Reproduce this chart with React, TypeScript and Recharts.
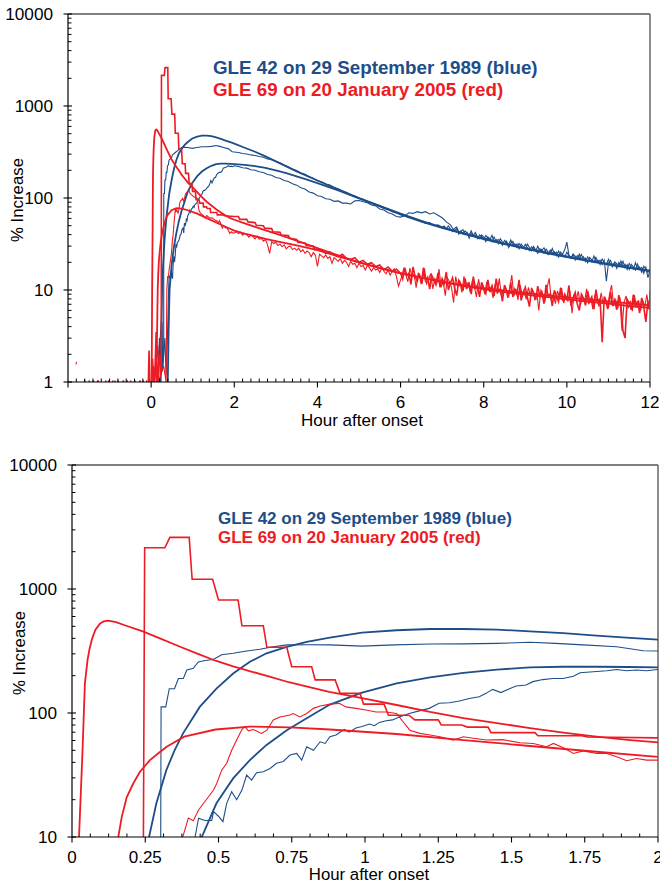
import React from 'react';
import { LineChart, Line, XAxis, YAxis, ReferenceLine } from 'recharts';

type Pt = [number, number | null];

const BLUE = '#1d4e89';
const RED = '#ed1c24';
const FONT = "'Liberation Sans', Arial, Helvetica, sans-serif";

// ---------- data (hour after onset, % increase) ----------
const blueFit1: Pt[] = [
  [0.23, 1], [0.245, 3], [0.263, 10], [0.288, 18.7], [0.322, 34.6], [0.35, 50], [0.379, 68.5], [0.436, 112],
  [0.493, 157], [0.55, 208], [0.607, 259], [0.664, 303], [0.733, 342], [0.801, 375], [0.88, 406], [0.99, 444],
  [1.108, 465], [1.222, 476], [1.336, 476], [1.45, 470], [1.563, 456], [1.677, 440], [1.79, 421], [1.905, 404],
  [2.0, 390], [2.25, 352], [2.5, 318], [2.75, 283], [3, 250], [3.25, 221], [3.5, 195], [3.75, 174], [4, 155],
  [4.5, 124], [5, 100], [5.5, 82], [6, 67.5], [6.5, 56.5], [7, 48], [7.5, 41.5], [8, 36.3], [8.5, 32], [9, 28.5],
  [9.5, 25.6], [10, 23.2], [10.5, 21], [11, 19.2], [11.5, 17.6], [12, 16.2],
];

const blueFit2: Pt[] = [
  [0.4, 1], [0.42, 3.5], [0.443, 10], [0.493, 18.7], [0.55, 29.7], [0.607, 41.7], [0.664, 55.3], [0.733, 72.7],
  [0.801, 90.6], [0.88, 117], [0.99, 146], [1.108, 173], [1.222, 194], [1.336, 211], [1.45, 224], [1.563, 233],
  [1.677, 236], [1.79, 236], [1.9, 235], [2.0, 233], [2.25, 229], [2.5, 222], [2.75, 212], [3, 200], [3.25, 186],
  [3.5, 172], [3.75, 158], [4, 145], [4.5, 121], [5, 99], [5.5, 81], [6, 66.5], [6.5, 55.5], [7, 47.3], [7.5, 41],
  [8, 35.8], [8.5, 31.6], [9, 28.1], [9.5, 25.2], [10, 22.8], [10.5, 20.7], [11, 18.9], [11.5, 17.4], [12, 16],
];

const blueObs1: Pt[] = [
  [-1.52, 0.85], [-1.49, 1.04], [-1.46, 0.85], [-1.12, 0.85], [-1.09, 1.04], [-1.06, 0.85], [-0.82, 0.85],
  [-0.79, 1.04], [-0.76, 0.85], [-0.42, 0.85], [-0.39, 1.04], [-0.36, 0.85], [0.05, 0.9], [0.1, 1.4], [0.15, 1.0],
  [0.2, 3.0], [0.22, 1.1], [0.26, 4.5], [0.28, 1.5],
  [0.302, 2], [0.304, 112], [0.32, 112], [0.332, 157], [0.35, 157], [0.363, 190], [0.38, 190], [0.392, 222],
  [0.414, 229], [0.431, 258], [0.454, 265], [0.482, 270], [0.511, 295], [0.55, 303], [0.596, 316], [0.641, 327],
  [0.687, 342], [0.733, 354], [0.8, 355], [0.88, 354], [0.99, 346], [1.1, 354], [1.222, 360], [1.336, 361],
  [1.45, 364], [1.563, 372], [1.65, 364], [1.745, 354], [1.859, 342], [1.95, 318], [2.0, 316],
  [2.1, 312], [2.2, 305], [2.3, 301], [2.4, 294], [2.5, 290], [2.6, 283], [2.7, 277], [2.8, 266], [2.9, 260],
  [3.0, 249], [3.1, 241], [3.2, 228], [3.3, 219], [3.4, 206], [3.5, 199], [3.6, 187], [3.7, 181], [3.8, 169],
  [3.9, 164], [4.0, 154], [4.1, 150], [4.2, 141], [4.3, 138], [4.4, 129], [4.5, 126], [4.6, 118], [4.7, 115],
  [4.8, 107], [4.9, 105], [5.0, 99], [5.1, 97], [5.2, 91], [5.3, 89], [5.4, 84], [5.5, 83], [5.6, 77], [5.7, 76],
  [5.8, 71], [5.9, 70], [6.0, 66], [6.1, 65], [6.2, 61], [6.3, 61], [6.4, 57], [6.5, 57], [6.6, 53], [6.7, 54],
  [6.8, 50], [6.9, 51], [7.0, 48],
  [7.05, 49.7], [7.1, 46.2], [7.15, 49.7], [7.2, 46.2], [7.25, 43.2], [7.3, 46.6], [7.35, 48.2], [7.4, 42.7],
  [7.45, 43.9], [7.5, 40.6], [7.55, 43.8], [7.6, 41.5], [7.65, 39.3], [7.7, 43.9], [7.75, 39.0], [7.8, 39.7],
  [7.85, 36.1], [7.9, 39.8], [7.95, 37.8], [8.0, 35.5], [8.05, 39.1], [8.1, 36.1], [8.15, 36.7], [8.2, 33.4],
  [8.25, 37.6], [8.3, 33.7], [8.35, 35.3], [8.4, 33.5], [8.45, 30.7], [8.5, 34.6], [8.55, 32.9], [8.6, 30.9],
  [8.65, 35.0], [8.7, 30.9], [8.75, 31.7], [8.8, 28.9], [8.85, 31.9], [8.9, 29.7], [8.95, 28.5], [9.0, 31.3],
  [9.05, 29.0], [9.1, 26.7], [9.15, 29.5], [9.2, 28.4], [9.25, 26.4], [9.3, 29.9], [9.35, 26.4], [9.4, 27.7],
  [9.45, 25.1], [9.5, 27.9], [9.55, 25.8], [9.6, 24.8], [9.65, 28.3], [9.7, 24.8], [9.75, 25.8], [9.8, 22.8],
  [9.85, 25.8], [9.9, 24.2], [9.95, 22.9], [10.0, 25.8], [10.05, 23.5], [10.1, 22.0], [10.15, 24.4], [10.2, 23.3],
  [10.25, 21.8], [10.3, 24.5], [10.35, 21.7], [10.4, 23.0], [10.45, 20.3], [10.5, 22.9], [10.55, 21.2],
  [10.6, 20.2], [10.65, 23.4], [10.7, 20.5], [10.75, 21.1], [10.8, 18.9], [10.85, 21.7], [10.9, 19.9],
  [10.95, 18.8], [11.0, 21.6], [11.05, 19.0], [11.1, 17.8], [11.15, 20.2], [11.2, 19.3], [11.25, 18.0],
  [11.3, 20.6], [11.35, 17.9], [11.4, 19.0], [11.45, 16.7], [11.5, 19.4], [11.55, 17.8], [11.6, 16.8],
  [11.65, 19.8], [11.7, 17.1], [11.75, 17.7], [11.8, 15.6], [11.85, 18.1], [11.9, 16.8], [11.95, 15.6], [12.0, 16.8],
];

const blueObs2: Pt[] = [
  [-1.62, 0.85], [-1.59, 1.04], [-1.56, 0.85], [-1.32, 0.85], [-1.29, 1.04], [-1.26, 0.85], [-0.95, 0.85],
  [-0.92, 1.04], [-0.89, 0.85], [-0.6, 0.85], [-0.57, 1.04], [-0.54, 0.85], [-0.22, 0.85], [-0.19, 1.04],
  [-0.16, 0.85], [0.08, 0.9], [0.12, 2.0], [0.15, 1.0], [0.25, 5], [0.27, 1.3], [0.33, 3], [0.36, 1.2],
  [0.4, 4], [0.42, 10], [0.432, 14.2], [0.454, 13.6], [0.477, 13.6], [0.483, 16], [0.5, 14.7], [0.515, 13.3],
  [0.528, 18.7], [0.545, 23.2], [0.562, 20], [0.58, 23.9], [0.596, 31.6], [0.613, 28.8], [0.63, 33], [0.653, 33.6],
  [0.676, 35.7], [0.698, 39.3], [0.721, 40.7], [0.744, 45.8], [0.767, 47.2], [0.784, 41.7], [0.801, 53.4],
  [0.824, 50], [0.847, 58.6], [0.864, 56.8], [0.88, 64.4], [0.901, 66.5], [0.929, 73.6], [0.946, 70], [0.969, 75.6],
  [0.99, 77.7], [1.015, 81.5], [1.032, 79], [1.049, 84], [1.072, 86.5], [1.094, 88], [1.117, 93], [1.151, 99],
  [1.185, 104], [1.219, 109], [1.253, 120], [1.288, 121], [1.322, 125], [1.356, 131], [1.39, 135], [1.413, 144],
  [1.436, 155], [1.464, 146], [1.493, 157], [1.516, 165], [1.55, 168], [1.573, 179], [1.607, 186], [1.641, 190],
  [1.676, 190], [1.711, 198], [1.734, 211], [1.779, 215], [1.825, 219], [1.859, 224], [1.893, 219], [1.927, 222],
  [1.961, 219], [2.0, 224],
  [2.1, 220], [2.2, 213], [2.3, 211], [2.4, 203], [2.5, 200], [2.6, 193], [2.7, 189], [2.8, 180], [2.9, 177],
  [3.0, 167], [3.1, 164], [3.2, 155], [3.3, 151], [3.4, 143], [3.5, 138], [3.6, 129], [3.7, 125], [3.8, 116],
  [3.9, 113], [4.0, 106], [4.1, 104], [4.2, 98], [4.3, 97], [4.4, 92], [4.5, 93], [4.6, 88], [4.7, 88], [4.8, 86],
  [4.9, 93], [5.0, 94], [5.1, 91], [5.2, 89], [5.3, 84], [5.4, 82], [5.5, 76], [5.6, 74], [5.7, 69], [5.8, 67],
  [5.9, 63], [6.0, 62], [6.1, 64], [6.2, 69], [6.3, 68], [6.4, 71], [6.5, 69], [6.6, 71], [6.7, 67], [6.8, 69],
  [6.9, 65], [7.0, 61], [7.1, 55], [7.2, 51], [7.25, 47],
  [7.3, 43.9], [7.35, 46.4], [7.4, 40.5], [7.45, 43.4], [7.5, 45.3], [7.55, 40.0], [7.6, 42.3], [7.65, 36.5],
  [7.7, 41.5], [7.75, 39.4], [7.8, 42.4], [7.85, 37.2], [7.9, 36.0], [7.95, 39.6], [8.0, 37.7], [8.05, 33.6],
  [8.1, 37.9], [8.15, 35.2], [8.2, 39.4], [8.25, 33.4], [8.3, 35.4], [8.35, 31.9], [8.4, 36.2], [8.45, 33.3],
  [8.5, 31.6], [8.55, 33.9], [8.6, 29.0], [8.65, 32.1], [8.7, 33.7], [8.75, 30.2], [8.8, 31.6], [8.85, 28.0],
  [8.9, 31.5], [8.95, 29.4], [9.0, 27.8], [9.05, 31.6], [9.1, 29.0], [9.15, 26.7], [9.2, 29.7], [9.25, 27.2],
  [9.3, 25.0], [9.35, 28.2], [9.4, 26.9], [9.45, 28.8], [9.5, 25.3], [9.55, 24.3], [9.6, 27.1], [9.65, 25.3],
  [9.7, 26.0], [9.75, 23.6], [9.8, 26.5], [9.85, 23.8], [9.9, 24.7], [9.95, 27.5], [10.0, 33.2], [10.05, 24.0],
  [10.1, 22.3], [10.15, 24.6], [10.2, 21.2], [10.25, 23.6], [10.3, 22.3], [10.35, 24.3], [10.4, 21.2],
  [10.45, 22.2], [10.5, 19.7], [10.55, 22.5], [10.6, 21.2], [10.65, 19.9], [10.7, 22.6], [10.75, 20.1],
  [10.8, 21.1], [10.85, 18.9], [10.9, 21.1], [10.95, 12.5], [11.0, 19.6], [11.05, 21.0], [11.1, 18.5],
  [11.15, 19.7], [11.2, 17.2], [11.25, 19.9], [11.3, 18.4], [11.35, 20.5], [11.4, 17.4], [11.45, 18.9],
  [11.5, 16.7], [11.55, 19.0], [11.6, 17.7], [11.65, 16.5], [11.7, 19.1], [11.75, 16.7], [11.8, 17.6],
  [11.85, 15.2], [11.9, 17.6], [11.95, 13.6], [12.0, 16.2],
];

const redFit1: Pt[] = [
  [0.012, 1], [0.018, 3], [0.024, 10], [0.036, 50], [0.044, 173], [0.053, 267], [0.06, 330], [0.069, 400],
  [0.08, 470], [0.096, 528], [0.108, 548], [0.124, 555], [0.15, 540], [0.18, 510], [0.244, 453], [0.3, 400],
  [0.369, 342], [0.43, 300], [0.49, 264], [0.55, 238], [0.615, 215], [0.68, 195], [0.74, 177], [0.81, 162],
  [0.878, 148], [0.994, 131], [1.108, 116], [1.222, 102], [1.336, 91], [1.45, 83], [1.563, 75.5], [1.677, 69.5],
  [1.79, 64.5], [1.905, 60.5], [2.0, 58], [2.25, 53], [2.5, 48.5], [2.75, 44.5], [3, 41], [3.5, 34.5], [4, 28.5],
  [4.5, 23.8], [5, 20], [5.5, 17.3], [6, 15.2], [6.5, 13.6], [7, 12.3], [7.5, 11.3], [8, 10.5], [8.5, 9.85],
  [9, 9.3], [9.5, 8.8], [10, 8.3], [10.5, 7.9], [11, 7.5], [11.5, 7.15], [12, 6.8],
];

const redFit2: Pt[] = [
  [0.135, 2], [0.148, 5], [0.158, 10], [0.17, 14.6], [0.187, 21], [0.209, 27], [0.232, 33.6], [0.266, 41.7],
  [0.298, 48], [0.323, 53.4], [0.383, 64.4], [0.49, 73.6], [0.607, 77.7], [0.744, 76.7], [0.88, 73.6],
  [1.108, 67.7], [1.336, 60.5], [1.563, 54.2], [1.79, 48.7], [2.0, 44.3],
  [2.25, 41], [2.5, 38.5], [2.75, 36], [3, 34], [3.5, 30.5], [4, 27.2], [4.5, 23.2], [5, 20], [5.5, 17.4],
  [6, 15.3], [6.5, 13.6], [7, 12.2], [7.5, 11.1], [8, 10.2], [8.5, 9.5], [9, 8.9], [9.5, 8.4], [10, 7.9],
  [10.5, 7.5], [11, 7.1], [11.5, 6.7], [12, 6.4],
];

const redObs1: Pt[] = [
  [-1.42, 0.85], [-1.39, 1.04], [-1.36, 0.85], [-1.05, 0.85], [-1.02, 1.04], [-0.99, 0.85], [-0.7, 0.85],
  [-0.67, 1.04], [-0.64, 0.85], [-0.3, 0.85], [-0.27, 1.04], [-0.24, 0.85], [-0.07, 0.9], [-0.05, 2.2],
  [-0.03, 0.95], [0.0, 0.9], [0.05, 1.5], [0.08, 0.9], [0.12, 3.5], [0.14, 1.0], [0.2, 2.0], [0.23, 1.2],
  [0.242, 1.2], [0.248, 2150], [0.317, 2150],
  [0.334, 2610], [0.4, 2610], [0.41, 1200], [0.48, 1200], [0.5, 815], [0.567, 815], [0.58, 505], [0.653, 505],
  [0.665, 339], [0.733, 339], [0.75, 236], [0.818, 236], [0.83, 185], [0.898, 185], [0.915, 144], [0.983, 144],
  [0.995, 118], [1.065, 118], [1.08, 96], [1.15, 96], [1.17, 88], [1.25, 88], [1.26, 80], [1.33, 80], [1.35, 77],
  [1.42, 77], [1.43, 69.5], [1.58, 69.5], [1.59, 65.5], [1.74, 65.5], [1.76, 64], [2.0, 63],
  [2.1, 63], [2.13, 58.5], [2.3, 58.5], [2.33, 55], [2.5, 54], [2.53, 50.5], [2.7, 50], [2.73, 47], [2.9, 46.5],
  [2.93, 43], [3.1, 42.5], [3.13, 39.5], [3.3, 39], [3.33, 36.5], [3.5, 35.5], [3.53, 33], [3.7, 32.5],
  [3.73, 30.5], [3.9, 30], [3.93, 27.5], [4.0, 28], [4.1, 27], [4.2, 25], [4.3, 26], [4.4, 24], [4.5, 23],
  [4.6, 24.5], [4.7, 22], [4.8, 21.5], [4.9, 22.5], [5.0, 20], [5.1, 21], [5.2, 19], [5.3, 19.8], [5.4, 18],
  [5.5, 18.7], [5.6, 16.5], [5.7, 17.8], [5.8, 16], [5.9, 16.8],
  [6.0, 15.2], [6.05, 13.2], [6.1, 17.5], [6.15, 14.3], [6.2, 15.2], [6.25, 11.5], [6.3, 17.8], [6.35, 14.0],
  [6.4, 12.5], [6.45, 15.1], [6.5, 11.6], [6.55, 17.5], [6.6, 12.6], [6.65, 13.7], [6.7, 10.2], [6.75, 14.4],
  [6.8, 12.8], [6.85, 11.4], [6.9, 15.3], [6.95, 10.7], [7.0, 13.3], [7.05, 11.7], [7.1, 15.7], [7.15, 10.0],
  [7.2, 11.9], [7.25, 13.6], [7.3, 10.5], [7.35, 8.7], [7.4, 12.7], [7.45, 11.6], [7.5, 9.8], [7.55, 13.4],
  [7.6, 10.6], [7.65, 11.7], [7.7, 9.0], [7.75, 14.0], [7.8, 10.5], [7.85, 11.3], [7.9, 8.4], [7.95, 12.1],
  [8.0, 10.5], [8.05, 9.2], [8.1, 12.9], [8.15, 9.5], [8.2, 11.1], [8.25, 8.6], [8.3, 13.3], [8.35, 9.6],
  [8.4, 10.3], [8.45, 7.5], [8.5, 11.3], [8.55, 9.8], [8.6, 8.7], [8.65, 12.1], [8.7, 8.4], [8.75, 10.2],
  [8.8, 9.0], [8.85, 12.9], [8.9, 7.7], [8.95, 9.4], [9.0, 10.7], [9.05, 8.3], [9.1, 6.6], [9.15, 10.2],
  [9.2, 9.4], [9.25, 7.8], [9.3, 11.0], [9.35, 8.5], [9.4, 9.4], [9.45, 7.1], [9.5, 11.4], [9.55, 8.5],
  [9.6, 9.1], [9.65, 6.7], [9.7, 9.9], [9.75, 8.6], [9.8, 7.5], [9.85, 10.6], [9.9, 7.6], [9.95, 9.0],
  [10.0, 7.8], [10.05, 11.2], [10.1, 6.7], [10.15, 8.2], [10.2, 9.4], [10.25, 7.1], [10.3, 6.0], [10.35, 9.0],
  [10.4, 8.1], [10.45, 6.8], [10.5, 9.8], [10.55, 7.5], [10.6, 8.4], [10.65, 6.2], [10.7, 10.1], [10.75, 7.4],
  [10.8, 8.0], [10.85, 2.7], [10.9, 8.5], [10.95, 7.5], [11.0, 6.6], [11.05, 9.5], [11.1, 6.7], [11.15, 7.8],
  [11.2, 6.1], [11.25, 8.8], [11.3, 7.0], [11.35, 3.6], [11.4, 3.0], [11.45, 7.9], [11.5, 7.2], [11.55, 6.1],
  [11.6, 8.9], [11.65, 6.5], [11.7, 7.6], [11.75, 5.6], [11.8, 8.2], [11.85, 6.6], [11.9, 4.5], [11.95, 7.5],
  [12.0, 6.8],
];

const redObs2: Pt[] = [
  [-1.81, 1.55], [-1.795, 1.65], [-1.7, null], [-1.3, 0.85], [-1.27, 1.04], [-1.24, 0.85], [-0.9, 0.85],
  [-0.87, 1.04], [-0.84, 0.85], [-0.52, 0.85], [-0.49, 1.04], [-0.46, 0.85], [-0.14, 0.85], [-0.11, 1.04],
  [-0.08, 0.85], [0.02, 0.9], [0.04, 1.8], [0.06, 0.95], [0.1, 1.2], [0.16, 2.5], [0.18, 1.0], [0.3, 1.5],
  [0.36, 1.0], [0.378, 10], [0.397, 14.2], [0.414, 13.5], [0.432, 16.5], [0.449, 18.7], [0.466, 21.1],
  [0.483, 23.9], [0.494, 27], [0.511, 34.6], [0.528, 39.3], [0.545, 50], [0.562, 60.5], [0.58, 73.6], [0.59, 77.7],
  [0.602, 71.8], [0.619, 73.6], [0.647, 68.5], [0.665, 72.7], [0.687, 88], [0.71, 93], [0.744, 96.4], [0.755, 99],
  [0.778, 93], [0.801, 99], [0.824, 109], [0.847, 114], [0.88, 118], [0.912, 119.6], [0.935, 112], [0.969, 109],
  [1.003, 105.6], [1.038, 102], [1.072, 102], [1.108, 99], [1.13, 85], [1.153, 72.7], [1.187, 68.5], [1.222, 66.5],
  [1.256, 64.4], [1.301, 60.5], [1.336, 64.4], [1.37, 62.5], [1.413, 60.5], [1.47, 61], [1.529, 57.5],
  [1.574, 56.8], [1.62, 53.4], [1.643, 56.8], [1.677, 52.5], [1.711, 47.2], [1.745, 49.5], [1.791, 47.2],
  [1.825, 47.2], [1.859, 44.3], [1.893, 41.2], [1.927, 43], [1.961, 41.7], [2.0, 41.7],
  [2.05, 43], [2.1, 41], [2.15, 42.5], [2.2, 39.5], [2.25, 41], [2.3, 40], [2.35, 37.5], [2.4, 39.5], [2.45, 38],
  [2.5, 36], [2.55, 38.5], [2.6, 35.5], [2.65, 36.5], [2.7, 34], [2.75, 35.5], [2.8, 31], [2.85, 25], [2.9, 33.5],
  [2.95, 32], [3.0, 33], [3.05, 30.5], [3.1, 31.5], [3.15, 29.5], [3.2, 31], [3.25, 28], [3.3, 29.5], [3.35, 30],
  [3.4, 27.5], [3.45, 28.5], [3.5, 27], [3.55, 28.5], [3.6, 26], [3.65, 27.5], [3.7, 25], [3.75, 26.5],
  [3.8, 25.5], [3.85, 23], [3.9, 25.5], [3.95, 24], [4.0, 18], [4.05, 24.5], [4.1, 23.5], [4.15, 22.5], [4.2, 24],
  [4.25, 22], [4.3, 23], [4.35, 19.5], [4.4, 22.5], [4.45, 21.5], [4.5, 20.5], [4.55, 22], [4.6, 19.5], [4.65, 21],
  [4.7, 20], [4.75, 18], [4.8, 20.5], [4.85, 19], [4.9, 19.5], [4.95, 17.5], [5.0, 19.5], [5.05, 18], [5.1, 18.5],
  [5.15, 16.5], [5.2, 18.5], [5.25, 17.5], [5.3, 16], [5.35, 17.5], [5.4, 16.5], [5.45, 17], [5.5, 15.5],
  [5.55, 17.5], [5.6, 16], [5.65, 15], [5.7, 16.5], [5.75, 14.5], [5.8, 16], [5.85, 17], [5.9, 14], [5.95, 11],
  [6.025, 13.9], [6.075, 17.0], [6.125, 14.8], [6.175, 12.3], [6.225, 17.3], [6.275, 13.9], [6.325, 14.9],
  [6.375, 10.6], [6.425, 15.2], [6.475, 14.0], [6.525, 12.2], [6.575, 17.2], [6.625, 11.7], [6.675, 13.1],
  [6.725, 15.1], [6.775, 10.3], [6.825, 13.3], [6.875, 12.0], [6.925, 16.9], [6.975, 10.7], [7.025, 12.3],
  [7.075, 8.7], [7.125, 13.5], [7.175, 12.4], [7.225, 10.7], [7.275, 7.3], [7.325, 14.0], [7.375, 10.9],
  [7.425, 12.4], [7.475, 9.4], [7.525, 14.1], [7.575, 10.3], [7.625, 12.2], [7.675, 9.4], [7.725, 12.6],
  [7.775, 10.9], [7.825, 8.4], [7.875, 13.1], [7.925, 9.9], [7.975, 11.2], [8.025, 9.0], [8.075, 12.3],
  [8.125, 10.0], [8.175, 10.7], [8.225, 8.2], [8.275, 11.6], [8.325, 9.1], [8.375, 13.4], [8.425, 8.6],
  [8.475, 9.9], [8.525, 10.8], [8.575, 8.2], [8.625, 10.2], [8.675, 14.5], [8.725, 8.6], [8.775, 10.3],
  [8.825, 7.8], [8.875, 11.3], [8.925, 9.0], [8.975, 9.6], [9.025, 7.9], [9.075, 10.7], [9.125, 8.5],
  [9.175, 10.1], [9.225, 8.0], [9.275, 9.5], [9.325, 6.0], [9.375, 10.0], [9.425, 8.9], [9.475, 7.7],
  [9.525, 10.6], [9.575, 13.4], [9.625, 7.8], [9.675, 9.1], [9.725, 7.1], [9.775, 9.8], [9.825, 8.1],
  [9.875, 10.5], [9.925, 7.2], [9.975, 8.5], [10.025, 7.6], [10.075, 9.7], [10.125, 5.6], [10.175, 9.0],
  [10.225, 7.8], [10.275, 9.7], [10.325, 6.8], [10.375, 8.6], [10.425, 7.4], [10.475, 10.3], [10.525, 7.0],
  [10.575, 8.2], [10.625, 6.2], [10.675, 8.9], [10.725, 7.7], [10.775, 6.6], [10.825, 9.3], [10.875, 7.0],
  [10.925, 8.2], [10.975, 6.2], [11.025, 8.9], [11.075, 11.3], [11.125, 6.7], [11.175, 7.8], [11.225, 6.3],
  [11.275, 8.3], [11.325, 3.6], [11.375, 7.3], [11.425, 8.6], [11.475, 6.3], [11.525, 7.6], [11.575, 5.9],
  [11.625, 8.8], [11.675, 6.5], [11.725, 7.7], [11.775, 6.0], [11.825, 7.7], [11.875, 6.6], [11.925, 8.9],
  [11.975, 6.1], [12.0, 10],
];

// ---------- ticks ----------
const topXMajor = [-2, 0, 2, 4, 6, 8, 10, 12];
const topXLabels = ['', '0', '2', '4', '6', '8', '10', '12'];
const botXMajor = [0, 0.25, 0.5, 0.75, 1, 1.25, 1.5, 1.75, 2];
const botXLabels = ['0', '0.25', '0.5', '0.75', '1', '1.25', '1.5', '1.75', '2'];
const topYMajor = [1, 10, 100, 1000, 10000];
const topYLabels = ['1', '10', '100', '1000', '10000'];
const botYMajor = [10, 100, 1000, 10000];
const botYLabels = ['10', '100', '1000', '10000'];

const stepTicks = (from: number, to: number, step: number) => {
  const out: number[] = [];
  const n = Math.round((to - from) / step);
  for (let i = 0; i <= n; i++) out.push(Math.round((from + i * step) * 100000) / 100000);
  return out;
};
const logTicks = (fromExp: number, toExp: number) => {
  const out: number[] = [];
  for (let e = fromExp; e < toExp; e++) for (let m = 1; m <= 9; m++) out.push(m * Math.pow(10, e));
  out.push(Math.pow(10, toExp));
  return out;
};

const toPts = (a: Pt[]) => a.map(([h, v]) => ({ h, v }));

const makeXTick = (majors: number[], labels: string[]) => (p: any) => {
  const v = Number(p.payload.value);
  const i = majors.findIndex((m) => Math.abs(m - v) < 1e-6);
  if (i < 0) return <line x1={p.x} x2={p.x} y1={p.y} y2={p.y - 3.5} stroke="#000" strokeWidth={1} />;
  return (
    <g>
      <line x1={p.x} x2={p.x} y1={p.y} y2={p.y + 5.5} stroke="#000" strokeWidth={1.1} />
      {labels[i] ? (
        <text x={p.x} y={p.y + 26} textAnchor="middle" fontSize={17} fontFamily={FONT} fill="#000">
          {labels[i]}
        </text>
      ) : null}
    </g>
  );
};

const makeYTick = (majors: number[], labels: string[]) => (p: any) => {
  const v = Number(p.payload.value);
  const i = majors.findIndex((m) => Math.abs(m - v) / m < 1e-6);
  if (i < 0) return <line x1={p.x} x2={p.x + 3.5} y1={p.y} y2={p.y} stroke="#000" strokeWidth={1} />;
  return (
    <g>
      <line x1={p.x - 4.5} x2={p.x + 4} y1={p.y} y2={p.y} stroke="#000" strokeWidth={1.1} />
      <text x={p.x - 15} y={p.y + 6.2} textAnchor="end" fontSize={17.2} fontFamily={FONT} fill="#000">
        {labels[i]}
      </text>
    </g>
  );
};

const series = [
  { key: 'bf1', data: blueFit1, color: BLUE, w: 1.8 },
  { key: 'bf2', data: blueFit2, color: BLUE, w: 1.8 },
  { key: 'bo1', data: blueObs1, color: BLUE, w: 1.1 },
  { key: 'bo2', data: blueObs2, color: BLUE, w: 1.1 },
  { key: 'ro2', data: redObs2, color: RED, w: 1.1 },
  { key: 'rf1', data: redFit1, color: RED, w: 1.8 },
  { key: 'rf2', data: redFit2, color: RED, w: 1.8 },
  { key: 'ro1', data: redObs1, color: RED, w: 1.6 },
];

function Panel(props: {
  height: number;
  margin: { top: number; right: number; left: number; bottom: number };
  yWidth: number;
  xHeight: number;
  xDomain: [number, number];
  yDomain: [number, number];
  xTicks: number[];
  yTicks: number[];
  xTick: any;
  yTick: any;
}) {
  const { xDomain, yDomain } = props;
  return (
    <LineChart width={660} height={props.height} margin={props.margin}>
      <XAxis
        type="number"
        dataKey="h"
        domain={xDomain}
        allowDataOverflow
        ticks={props.xTicks}
        interval={0}
        tick={props.xTick}
        tickLine={false}
        tickSize={0}
        tickMargin={0}
        height={props.xHeight}
        axisLine={{ stroke: '#000', strokeWidth: 1.2 }}
      />
      <YAxis
        type="number"
        scale="log"
        domain={yDomain}
        allowDataOverflow
        ticks={props.yTicks}
        interval={0}
        tick={props.yTick}
        tickLine={false}
        tickSize={0}
        tickMargin={0}
        width={props.yWidth}
        axisLine={{ stroke: '#000', strokeWidth: 1.2 }}
      />
      <ReferenceLine y={yDomain[1]} stroke="#000" strokeWidth={1.2} />
      <ReferenceLine x={xDomain[1]} stroke="#666" strokeWidth={1.5} />
      {series.map((s) => (
        <Line
          key={s.key}
          data={toPts(s.data)}
          dataKey="v"
          type="linear"
          stroke={s.color}
          strokeWidth={s.w}
          dot={false}
          activeDot={false}
          connectNulls={false}
          isAnimationActive={false}
        />
      ))}
    </LineChart>
  );
}

export default function App() {
  return (
    <div style={{ position: 'absolute', left: 0, top: 0, width: 660, height: 883, background: '#fff', overflow: 'hidden' }}>
      <div style={{ position: 'absolute', left: 0, top: 0 }}>
        <Panel
          height={440}
          margin={{ top: 14, right: 10, left: 0, bottom: 0 }}
          yWidth={68}
          xHeight={58}
          xDomain={[-2, 12]}
          yDomain={[1, 10000]}
          xTicks={stepTicks(-2, 12, 0.2)}
          yTicks={logTicks(0, 4)}
          xTick={makeXTick(topXMajor, topXLabels)}
          yTick={makeYTick(topYMajor, topYLabels)}
        />
      </div>
      <div style={{ position: 'absolute', left: 0, top: 451 }}>
        <Panel
          height={432}
          margin={{ top: 14, right: 2, left: 0, bottom: 0 }}
          yWidth={72}
          xHeight={46}
          xDomain={[0, 2]}
          yDomain={[10, 10000]}
          xTicks={stepTicks(0, 2, 0.0625)}
          yTicks={logTicks(1, 4)}
          xTick={makeXTick(botXMajor, botXLabels)}
          yTick={makeYTick(botYMajor, botYLabels)}
        />
      </div>
      <svg
        width={660}
        height={883}
        style={{ position: 'absolute', left: 0, top: 0, pointerEvents: 'none' }}
        fontFamily={FONT}
      >
        <text x={213} y={74} fontSize={18.8} fontWeight="bold" fill={BLUE}>GLE 42 on 29 September 1989 (blue)</text>
        <text x={213} y={95.5} fontSize={18.8} fontWeight="bold" fill={RED}>GLE 69 on 20 January 2005 (red)</text>
        <text transform="translate(23,200) rotate(-90)" textAnchor="middle" fontSize={16.8} fill="#000">% Increase</text>
        <text x={362} y={425.5} textAnchor="middle" fontSize={17} fill="#000">Hour after onset</text>

        <text x={218} y={524} fontSize={17} fontWeight="bold" fill={BLUE}>GLE 42 on 29 September 1989 (blue)</text>
        <text x={218} y={543.3} fontSize={17} fontWeight="bold" fill={RED}>GLE 69 on 20 January 2005 (red)</text>
        <text transform="translate(25,653) rotate(-90)" textAnchor="middle" fontSize={16.8} fill="#000">% Increase</text>
        <text x={369} y={880} textAnchor="middle" fontSize={16.8} fill="#000">Hour after onset</text>
      </svg>
    </div>
  );
}
